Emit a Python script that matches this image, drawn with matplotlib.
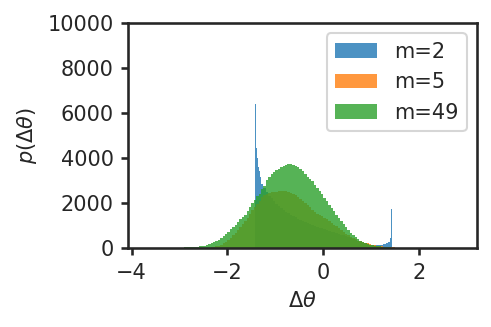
import numpy as np
import matplotlib
matplotlib.use("Agg")
import matplotlib.pyplot as plt

# bin heights (counts per bin)
labels = ["m=2", "m=5", "m=49"]

# m=2: narrow bins at the two spikes, 0.05 wide in between
m2_edges = [-1.42, -1.40, -1.38, -1.36, -1.34, -1.32] + \
    list(np.round(np.arange(-1.30, 1.351, 0.05), 2)) + [1.38, 1.40, 1.42]
m2_counts = [6400, 4460, 4010, 3610, 3420, 3170,
             2850, 2650, 2480, 2330, 2200, 2080, 1970, 1870, 1780, 1700,
             1620, 1550, 1480, 1420, 1360, 1300, 1250, 1200, 1150, 1100,
             1060, 1020, 980, 940, 900, 870, 840, 800, 770, 730,
             700, 660, 630, 590, 560, 520, 490, 460, 400, 360,
             320, 280, 240, 200, 170, 150, 135, 125, 120, 130,
             150, 175, 210,
             280, 430, 1730]

# m=5: 0.05 wide bins starting at -2.45
m5_start = -2.45
m5_counts = [10, 20, 35, 50, 70, 100, 140, 200, 280, 360,
             450, 560, 680, 800, 920, 1050, 1200, 1350, 1520, 1690,
             1820, 1960, 2100, 2250, 2350, 2420, 2460, 2490, 2500, 2510,
             2520, 2540, 2550, 2520, 2480, 2440, 2400, 2340, 2270, 2170,
             2080, 1980, 1890, 1800, 1700, 1610, 1530, 1460, 1400, 1340,
             1270, 1200, 1120, 1040, 960, 880, 800, 720, 640, 570,
             500, 440, 380, 330, 290, 260, 230, 200, 170, 150,
             125, 105, 85, 70, 55, 45, 35, 30, 25, 20,
             15, 10]

# m=49: 0.05 wide bins starting at -2.95
m49_start = -2.95
m49_counts = [20, 30, 35, 40, 45, 50, 60, 70, 90, 110,
              150, 190, 220, 250, 300, 370, 440, 520, 620, 730,
              840, 950, 1040, 1160, 1280, 1380, 1480, 1630, 1820, 1990,
              2130, 2300, 2420, 2600, 2760, 3000, 3150, 3270, 3360, 3450,
              3520, 3580, 3630, 3700, 3730, 3720, 3700, 3660, 3600, 3500,
              3400, 3280, 3170, 3060, 2960, 2800, 2670, 2520, 2380, 2230,
              2080, 1930, 1790, 1640, 1480, 1330, 1180, 1050, 930, 820,
              680, 560, 470, 390, 330, 270, 220, 180, 150, 125,
              105, 90, 70, 55, 45, 35, 25, 20, 15]

ink = "#262626"
plt.rcParams.update({
    "font.size": 10,
    "text.color": ink,
    "axes.labelcolor": ink,
    "xtick.color": ink,
    "ytick.color": ink,
    "axes.edgecolor": ink,
    "axes.linewidth": 1.25,
    "xtick.major.width": 1.25,
    "ytick.major.width": 1.25,
})

fig = plt.figure(figsize=(491 / 150, 327 / 150), dpi=150)
ax = fig.add_axes([0.261, 0.2416, 0.7105, 0.6881])

m5_edges = m5_start + 0.05 * np.arange(len(m5_counts) + 1)
m49_edges = m49_start + 0.05 * np.arange(len(m49_counts) + 1)

for edges, counts, lab, col in [(m2_edges, m2_counts, labels[0], "C0"),
                                (m5_edges, m5_counts, labels[1], "C1"),
                                (m49_edges, m49_counts, labels[2], "C2")]:
    edges = np.asarray(edges, dtype=float)
    centers = 0.5 * (edges[:-1] + edges[1:])
    ax.hist(centers, bins=edges, weights=counts, color=col, alpha=0.8,
            label=lab)

ax.set_xlim(-4.07, 3.2)
ax.set_ylim(0, 10000)
ax.set_xticks([-4, -2, 0, 2])
ax.set_yticks(range(0, 10001, 2000))
ax.set_xlabel(r"$\Delta\theta$")
ax.set_ylabel(r"$p(\Delta\theta)$")
ax.legend(loc="upper right")

fig.savefig("out.png", dpi=150)
